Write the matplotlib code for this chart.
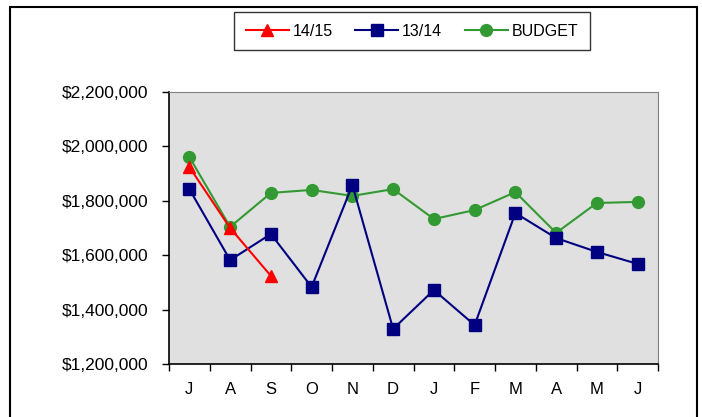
import matplotlib.pyplot as plt
from matplotlib.patches import Rectangle
from matplotlib.ticker import FuncFormatter, FixedLocator

# month labels (July to June)
months = ['J', 'A', 'S', 'O', 'N', 'D', 'J', 'F', 'M', 'A', 'M', 'J']

# monthly values
fy1415 = [1924000, 1700000, 1524000]
fy1314 = [1843000, 1582000, 1678000, 1483000, 1858000, 1329000,
          1472000, 1343000, 1755000, 1663000, 1612000, 1568000]
budget = [1961000, 1704000, 1829000, 1840000, 1818000, 1843000,
          1733000, 1766000, 1832000, 1682000, 1792000, 1796000]

plt.rcParams['font.family'] = ['Liberation Sans', 'DejaVu Sans']

fig = plt.figure(figsize=(7.02, 4.17), dpi=100)
ax = fig.add_axes([169 / 702, 53 / 417, 489 / 702, 272 / 417])
ax.set_facecolor('#E0E0E0')

x = list(range(len(months)))
ax.plot(x[:len(fy1415)], fy1415, color='#FF0000', lw=1.5, marker='^',
        ms=9, label='14/15', zorder=4)
ax.plot(x, fy1314, color='#000080', lw=1.5, marker='s',
        ms=8.5, label='13/14', zorder=3)
ax.plot(x, budget, color='#339933', lw=1.5, marker='o',
        ms=8.5, label='BUDGET', zorder=2)

ax.set_xlim(-0.5, len(months) - 0.5)
ax.set_ylim(1200000, 2200000)
ax.set_yticks(range(1200000, 2200001, 200000))
ax.yaxis.set_major_formatter(FuncFormatter(lambda v, p: '${:,.0f}'.format(v)))

# month labels in the middle, ticks between them
ax.set_xticks(x)
ax.set_xticklabels(months)
ax.xaxis.set_minor_locator(FixedLocator([i - 0.5 for i in range(len(months) + 1)]))
ax.tick_params(axis='x', which='major', length=0, pad=13, labelsize=12)
ax.tick_params(axis='x', which='minor', length=5, width=1, direction='out')
ax.tick_params(axis='y', length=5, width=1, direction='out', pad=10, labelsize=12.5)

for side in ['top', 'right']:
    ax.spines[side].set_color('#808080')
for side in ['left', 'bottom']:
    ax.spines[side].set_color('black')
    ax.spines[side].set_linewidth(1.2)

leg = fig.legend(loc='center', bbox_to_anchor=(412 / 702, 1 - 31 / 417),
                 ncol=3, frameon=True, fancybox=False, edgecolor='black',
                 fontsize=11.5, handlelength=2.7, columnspacing=1.4,
                 handletextpad=0.25, borderpad=0.7)
leg.get_frame().set_linewidth(1)

# chart border
fig.patches.append(Rectangle((10 / 702, -0.05), 687 / 702, 1.05 - 7 / 417,
                             transform=fig.transFigure, fill=False,
                             edgecolor='black', lw=1.5))

fig.savefig('out.png', dpi=100)
